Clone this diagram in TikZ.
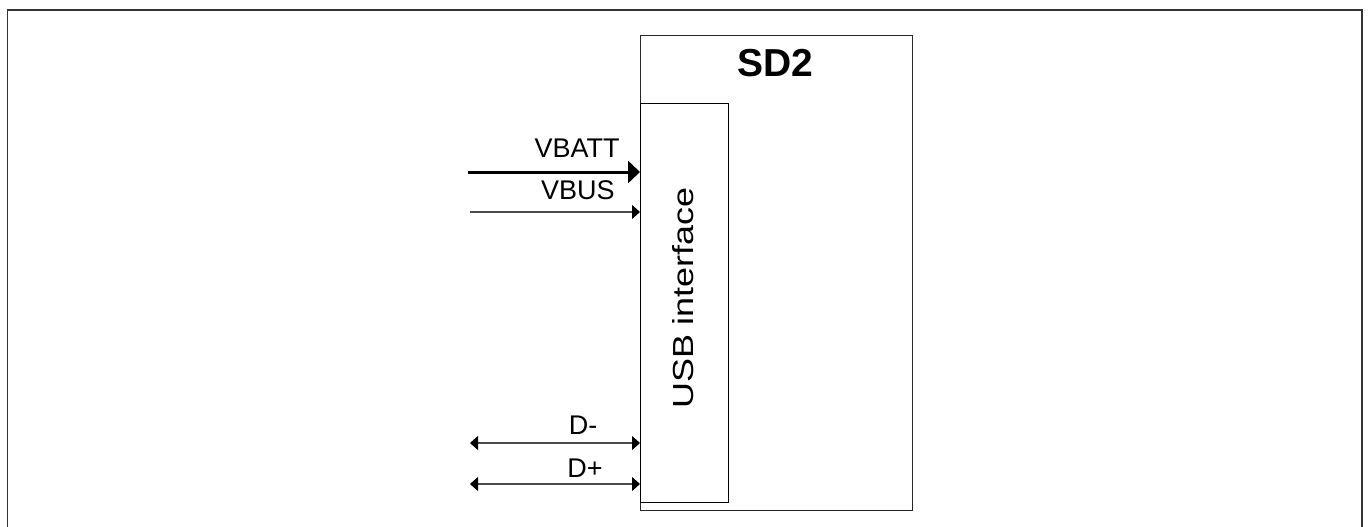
\documentclass[tikz,border=0pt]{standalone}
\usepackage{fontspec}
\setmainfont{Liberation Sans}
\usetikzlibrary{arrows.meta,positioning}

\begin{document}
\begin{tikzpicture}[x=0.5pt, y=-0.5pt,
  frame/.style={draw=black!80, line width=0.8pt},
  block/.style={draw=black!85, line width=0.55pt, inner sep=0pt, anchor=north west},
  lbl/.style={inner sep=0pt, font=\fontsize{13.5}{15}\selectfont},
  sig/.style={draw=black!70, line width=0.55pt, -{Triangle[length=4pt, width=7pt, color=black]}},
  power/.style={draw=black, line width=1.5pt, -{Triangle[length=6pt, width=11pt]}},
  bus/.style={draw=black!70, line width=0.55pt,
    {Triangle[length=4pt, width=7pt, color=black]}-{Triangle[length=4pt, width=7pt, color=black]}}]
  \useasboundingbox (0,0) rectangle (1368,526);
  % page frame, open at the bottom
  \draw[frame] (7.5,530) -- (7.5,10) -- (1362,10) -- (1362,530);

  % blocks
  \node[block, minimum width=136pt, minimum height=237.5pt] (sd2) at (640,35) {};
  \node[block, draw=black, minimum width=44pt, minimum height=199.5pt] (usb) at (640,103) {};
  \node[anchor=base, font=\bfseries\fontsize{19.5}{22}\selectfont] (title) at (775,76) {SD2};
  \node[anchor=base, rotate=90, inner sep=0pt, font=\fontsize{14.5}{17}\selectfont] (usbtext) at (693,298)
    {\scalebox{1.24}[1]{USB interface}};

  % signal labels
  \node[lbl, anchor=base east] (vbatt) at (620,157) {VBATT};
  \node[lbl, anchor=base east] (vbus) at (615,199) {VBUS};
  \node[lbl, anchor=base] (dminus) at (583,434) {D-};
  \node[lbl, anchor=base] (dplus) at (585,477) {D+};

  % free ends
  \coordinate (vbattin) at (468,172);
  \coordinate (vbusin) at (470,212);
  \coordinate (dminusin) at (470,443);
  \coordinate (dplusin) at (470,484);

  \draw[power] (vbattin) -- (vbattin -| usb.west);
  \draw[sig] (vbusin) -- (vbusin -| usb.west);
  \draw[bus] (dminusin) -- (dminusin -| usb.west);
  \draw[bus] (dplusin) -- (dplusin -| usb.west);
\end{tikzpicture}
\end{document}
